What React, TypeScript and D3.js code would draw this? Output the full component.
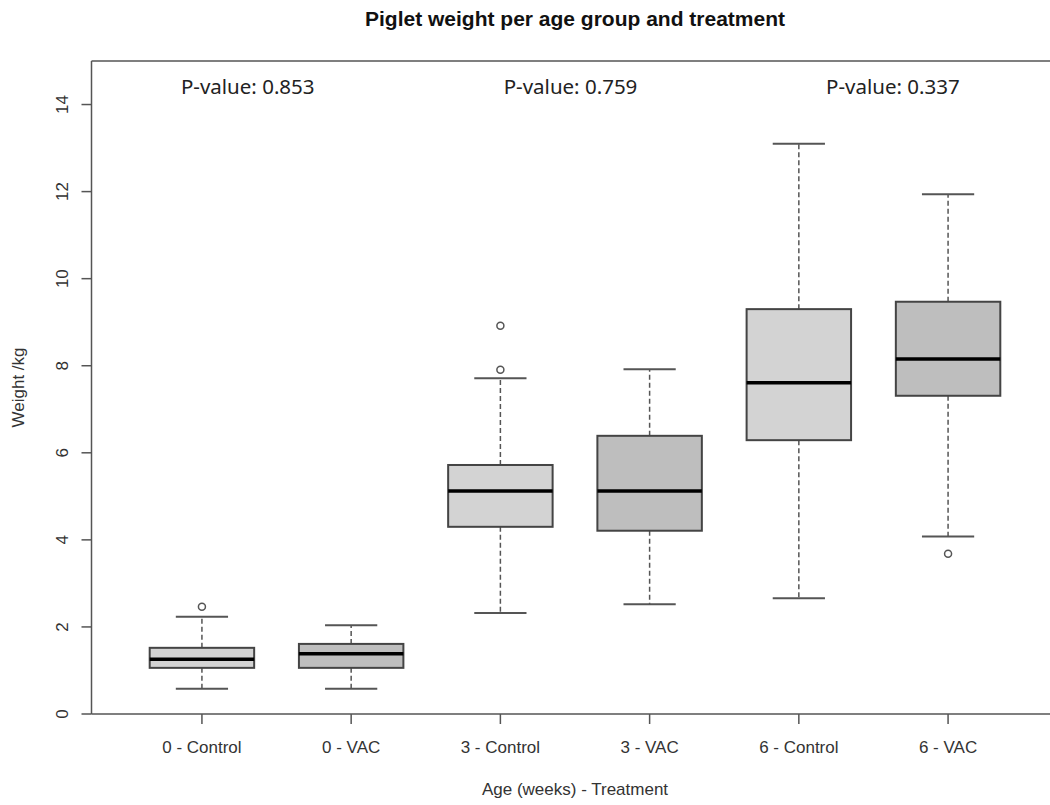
import React from 'react'
import * as d3 from 'd3'

// box statistics
const groups = ['0 - Control', '0 - VAC', '3 - Control', '3 - VAC', '6 - Control', '6 - VAC']
const treatment = ['Control', 'VAC', 'Control', 'VAC', 'Control', 'VAC']
const lowerWhisker = [0.58, 0.58, 2.32, 2.52, 2.66, 4.08]
const q1 = [1.06, 1.06, 4.3, 4.21, 6.29, 7.31]
const median = [1.26, 1.385, 5.12, 5.12, 7.61, 8.155]
const q3 = [1.52, 1.61, 5.72, 6.39, 9.3, 9.47]
const upperWhisker = [2.235, 2.04, 7.71, 7.92, 13.1, 11.94]
const outliers = [[2.465], [], [8.92, 7.91], [], [], [3.68]]

const yTicks = [0, 2, 4, 6, 8, 10, 12, 14]

// p-value notes, x in group-index units, y in kg
const pLabels = ['P-value: 0.853', 'P-value: 0.759', 'P-value: 0.337']
const pX = [1.307, 3.47, 5.63]
const pY = [14.24, 14.24, 14.24]

const fills = { Control: '#d3d3d3', VAC: '#bebebe' }

const W = 1050
const H = 805
const plotLeft = 91.5
const plotRight = 1058.5
const plotTop = 61
const plotBottom = 714

export default function App() {
  const n = groups.length
  // R style: xlim c(0.5, n + 0.5) widened by 4%
  const x = d3.scaleLinear().domain([0.26, n + 0.74]).range([plotLeft, plotRight])
  const y = d3.scaleLinear().domain([0, 15]).range([plotBottom, plotTop])
  const unit = x(2) - x(1)
  const boxW = unit * 0.7
  const capW = boxW * 0.5

  const rFont = "'Liberation Sans', Arial, sans-serif"

  return (
    <svg width={W} height={H} style={{ position: 'absolute', left: 0, top: 0, background: '#fff' }}>
      <text x={(plotLeft + plotRight) / 2} y={26} textAnchor="middle" fontFamily={rFont}
        fontWeight="bold" fontSize={21} fill="#111">
        Piglet weight per age group and treatment
      </text>

      {/* boxes */}
      {groups.map((g, i) => {
        const cx = x(i + 1)
        return (
          <g key={g}>
            <line x1={cx} x2={cx} y1={y(q3[i])} y2={y(upperWhisker[i])} stroke="#555"
              strokeWidth={1.5} strokeDasharray="5,3" />
            <line x1={cx} x2={cx} y1={y(q1[i])} y2={y(lowerWhisker[i])} stroke="#555"
              strokeWidth={1.5} strokeDasharray="5,3" />
            <line x1={cx - capW / 2} x2={cx + capW / 2} y1={y(upperWhisker[i])} y2={y(upperWhisker[i])}
              stroke="#555" strokeWidth={2} />
            <line x1={cx - capW / 2} x2={cx + capW / 2} y1={y(lowerWhisker[i])} y2={y(lowerWhisker[i])}
              stroke="#555" strokeWidth={2} />
            <rect x={cx - boxW / 2} y={y(q3[i])} width={boxW} height={y(q1[i]) - y(q3[i])}
              fill={fills[treatment[i]]} stroke="#444" strokeWidth={2} />
            <line x1={cx - boxW / 2} x2={cx + boxW / 2} y1={y(median[i])} y2={y(median[i])}
              stroke="#000" strokeWidth={3.5} />
            {outliers[i].map((o, j) => (
              <circle key={j} cx={cx} cy={y(o)} r={3.5} fill="none" stroke="#555" strokeWidth={1.5} />
            ))}
          </g>
        )
      })}

      {/* frame */}
      <line x1={plotLeft} x2={W} y1={plotTop} y2={plotTop} stroke="#555" strokeWidth={1.5} />
      <line x1={plotLeft} x2={W} y1={plotBottom} y2={plotBottom} stroke="#555" strokeWidth={1.5} />
      <line x1={plotLeft} x2={plotLeft} y1={plotTop} y2={plotBottom} stroke="#555" strokeWidth={1.5} />

      {/* y axis */}
      {yTicks.map((t) => (
        <g key={t}>
          <line x1={plotLeft - 10} x2={plotLeft} y1={y(t)} y2={y(t)} stroke="#555" strokeWidth={1.5} />
          <text transform={`translate(68,${y(t)}) rotate(-90)`} textAnchor="middle" fontFamily={rFont}
            fontSize={17} fill="#333">
            {t}
          </text>
        </g>
      ))}
      <text transform={`translate(24,${(plotTop + plotBottom) / 2}) rotate(-90)`} textAnchor="middle"
        fontFamily={rFont} fontSize={17} fill="#333">
        Weight /kg
      </text>

      {/* x axis */}
      {groups.map((g, i) => (
        <g key={g}>
          <line x1={x(i + 1)} x2={x(i + 1)} y1={plotBottom} y2={plotBottom + 10} stroke="#555" strokeWidth={1.5} />
          <text x={x(i + 1)} y={752.5} textAnchor="middle" fontFamily={rFont} fontSize={17} fill="#333">
            {g}
          </text>
        </g>
      ))}
      <text x={(plotLeft + plotRight) / 2} y={795} textAnchor="middle" fontFamily={rFont} fontSize={17} fill="#333">
        Age (weeks) - Treatment
      </text>

      {/* p-values */}
      {pLabels.map((p, i) => (
        <text key={p} x={x(pX[i])} y={y(pY[i])} textAnchor="middle" fontFamily="'Noto Sans', sans-serif"
          fontSize={20.5} fill="#222">
          {p}
        </text>
      ))}
    </svg>
  )
}
